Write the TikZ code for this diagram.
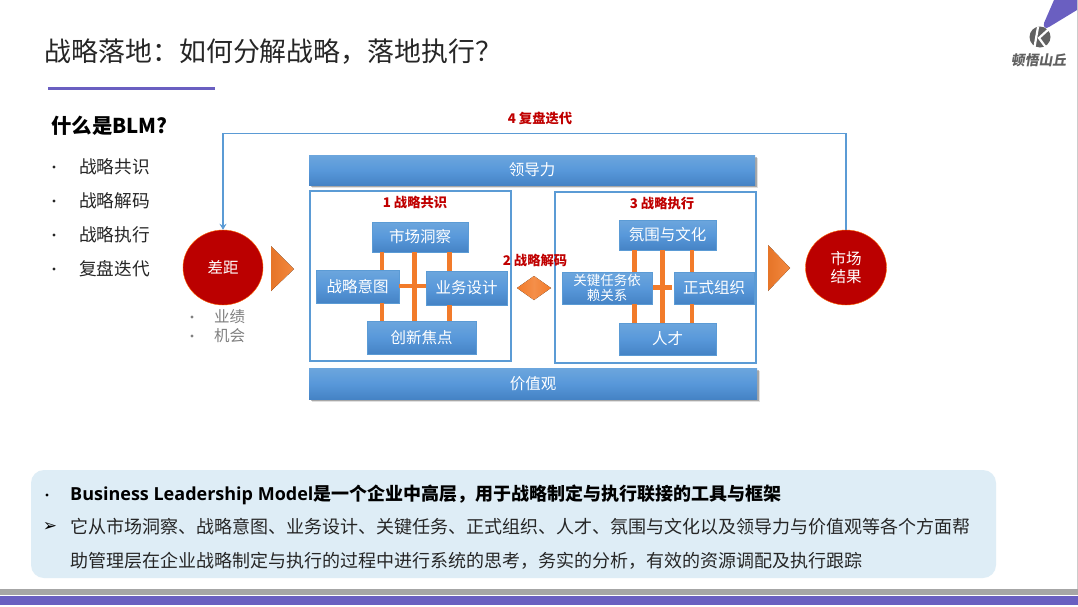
\documentclass[tikz,border=0pt]{standalone}
\usepackage{fontspec}
\setmainfont{Noto Sans CJK SC}
\newfontfamily\latinb{Open Sans}
\newfontfamily\symf{DejaVu Sans}
\usetikzlibrary{arrows.meta,shadows,calc,shapes.geometric}
\definecolor{bluemain}{HTML}{5B9BD5}
\definecolor{bluetop}{HTML}{6CA6DD}
\definecolor{bluemid}{HTML}{5898DA}
\definecolor{bluebot}{HTML}{4583C5}
\definecolor{purp}{HTML}{6A5FC1}
\definecolor{redc}{HTML}{BB0000}
\definecolor{labred}{HTML}{C00000}
\definecolor{orangeb}{HTML}{F27B2A}
\definecolor{panel}{HTML}{DEEDF6}
\newcommand{\fs}[1]{\fontsize{#1}{#1}\selectfont}
\tikzset{
  bluebox/.style={rectangle,draw=bluemain,line width=.6pt,inner sep=0pt,top color=bluetop,bottom color=bluebot,middle color=bluemid,text=white,align=center,font=\fs{15.5}},
  wide/.style={bluebox,draw=none,
    drop shadow={shadow xshift=3pt,shadow yshift=-3pt,opacity=.12,fill=black},
    drop shadow={shadow xshift=1.5pt,shadow yshift=-1.5pt,opacity=.25,fill=black}},
  frameb/.style={rectangle,draw=bluemain,line width=1.2pt,fill=white,inner sep=0pt},
  barlink/.style={draw=orangeb,line width=4.6pt},
  redcirc/.style={ellipse,draw=orange!80!red,line width=.4pt,fill=redc,text=white,inner sep=0pt,align=center,font=\fs{15.5}},
  ortri/.style={left color=orangeb!95!black,right color=orangeb!90!white,draw=none},
  lab/.style={text=labred,font=\fs{13.3}\bfseries,inner sep=0pt},
  listt/.style={anchor=west,text=black!85,font=\fs{17.7},inner sep=0pt},
  grayt/.style={anchor=west,text=black!50,font=\fs{15.5},inner sep=0pt},
  bullet/.style={circle,fill=#1,inner sep=0pt,minimum size=3.4pt},
  linkl/.style={draw=bluemain,line width=1.3pt},
  bodyt/.style={anchor=west,text=black!85,font=\fs{18},inner sep=0pt},
}
\begin{document}
\begin{tikzpicture}[x=1pt,y=-1pt]
\useasboundingbox (0,0) rectangle (1078,606);
\fill[white] (0,0) rectangle (1078,606);
\draw[black!20,line width=.6pt] (1077.5,0) -- (1077.5,589);
% header
\node[anchor=west,inner sep=0pt,text=black!85,font=\fs{26.9}] (title) at (44.5,52) {战略落地：如何分解战略，落地执行？};
\fill[purp] (48,87) rectangle (215,89.5);
% logo
\fill[purp] (1054,0) -- (1044,23) .. controls (1043,28) and (1046,29) .. (1049,27) -- (1077,10) -- (1077,0) -- cycle;
\fill[black!62] (1040,37) circle (10.5);
\draw[white,line width=2.2pt] (1050,28) -- (1039,38) -- (1047,49);
\draw[white,line width=2.2pt] (1038,27) -- (1034,50);
\node[inner sep=0pt,text=black!62,font=\fs{13.8}\bfseries,xslant=.18,transform shape] (brand) at (1039.5,60) {顿悟山丘};
% left list
\node[anchor=west,inner sep=0pt,text=black,font=\fs{20.4}\bfseries] (what) at (51,126) {什么是BLM?};
\foreach \yy/\itm in {167/战略共识,201/战略解码,235/战略执行,269/复盘迭代}{
  \node[bullet=black!85] at (54,\yy) {};
  \node[listt] at (79,\yy) {\itm};
}
% bars
\node[wide,minimum width=446pt,minimum height=30pt] (lead) at (532,170) {领导力};
\node[wide,minimum width=448pt,minimum height=31pt] (value) at (533,383.5) {价值观};
% frames
\node[frameb,minimum width=201pt,minimum height=170pt] (fl) at (410.5,276) {};
\node[frameb,minimum width=201pt,minimum height=171pt] (fr) at (655.5,277.5) {};
% left group links
\node[bluebox,minimum width=96pt,minimum height=30pt] (mi) at (420,237) {市场洞察};
\node[bluebox,minimum width=83pt,minimum height=33pt] (si) at (357.5,286.5) {战略意图};
\node[bluebox,minimum width=81pt,minimum height=34pt] (bd) at (466.5,288) {业务设计};
\node[bluebox,minimum width=109pt,minimum height=33pt] (if) at (421.5,337.5) {创新焦点};
\draw[barlink] (382,0 |- mi.south) -- (382,0 |- si.north);
\draw[barlink] (382,0 |- si.south) -- (382,0 |- if.north);
\draw[barlink] (449.5,0 |- mi.south) -- (449.5,0 |- bd.north);
\draw[barlink] (449.5,0 |- bd.south) -- (449.5,0 |- if.north);
\draw[barlink] (414.5,0 |- mi.south) -- (414.5,0 |- if.north);
\draw[barlink] (si.east |- 0,286) -- (bd.west |- 0,286);
% right group boxes
\node[bluebox,minimum width=97pt,minimum height=30pt] (ac) at (667.5,235) {氛围与文化};
\node[bluebox,minimum width=90pt,minimum height=32pt,font=\fs{13.5}] (kt) at (607,288) {关键任务依\\[1pt]赖关系};
\node[bluebox,minimum width=80pt,minimum height=32pt] (fo) at (714,288) {正式组织};
\node[bluebox,minimum width=97pt,minimum height=32pt] (tl) at (667.5,339) {人才};
\draw[barlink] (634.5,0 |- ac.south) -- (634.5,0 |- kt.north);
\draw[barlink] (634.5,0 |- kt.south) -- (634.5,0 |- tl.north);
\draw[barlink] (692,0 |- ac.south) -- (692,0 |- fo.north);
\draw[barlink] (692,0 |- fo.south) -- (692,0 |- tl.north);
\draw[barlink] (662.5,0 |- ac.south) -- (662.5,0 |- tl.north);
\draw[barlink] (653,287.5) -- (672,287.5);
% labels
\node[lab] (l1) at (415,202) {1 战略共识};
\node[lab] (l2) at (535,260) {2 战略解码};
\node[lab] (l3) at (662,203) {3 战略执行};
\node[lab] (l4) at (540,118) {4 复盘迭代};
% diamond
\fill[left color=orangeb,right color=orangeb,middle color=orangeb!85!white] (517,288) -- (534,276) -- (551,288) -- (534,300) -- cycle;
% triangles
\fill[ortri] (271,246) -- (294,269) -- (271,291) -- cycle;
\fill[ortri] (768,245) -- (790,268) -- (768,291) -- cycle;
% circles
\node[redcirc,minimum width=80pt,minimum height=75pt] (gap) at (223,267.5) {差距};
\node[redcirc,minimum width=81pt,minimum height=75pt] (mr) at (846,267.5) {市场\\[3pt]结果};
\coordinate (topmid) at (535,133.5);
\draw[linkl,-{Stealth[length=6pt,width=7pt]}] (mr.north) |- (topmid) -| (gap.north);
% gap notes
\node[bullet=black!50] at (192,317) {};
\node[bullet=black!50] at (192,336) {};
\node[grayt] at (214,317) {业绩};
\node[grayt] at (214,336) {机会};
% bottom panel
\fill[panel,rounded corners=13pt] (31,470) rectangle (996,578);
\node[bullet=black] at (47,495) {};
\node[anchor=west,inner sep=0pt,text=black,font=\fs{18}\bfseries] (bl) at (70,495) {{\latinb\bfseries Business Leadership Model}是一个企业中高层，用于战略制定与执行联接的工具与框架};
\node[inner sep=0pt,text=black,font=\symf\fs{17}] (ar) at (50,527) {➢};
\node[bodyt] (b2) at (70,527) {它从市场洞察、战略意图、业务设计、关键任务、正式组织、人才、氛围与文化以及领导力与价值观等各个方面帮};
\node[bodyt] (b3) at (70,561) {助管理层在企业战略制定与执行的过程中进行系统的思考，务实的分析，有效的资源调配及执行跟踪};
% footer
\fill[black!35] (0,589) rectangle (1078,595.3);
\fill[purp] (0,595.6) rectangle (1078,605);
\end{tikzpicture}
\end{document}
